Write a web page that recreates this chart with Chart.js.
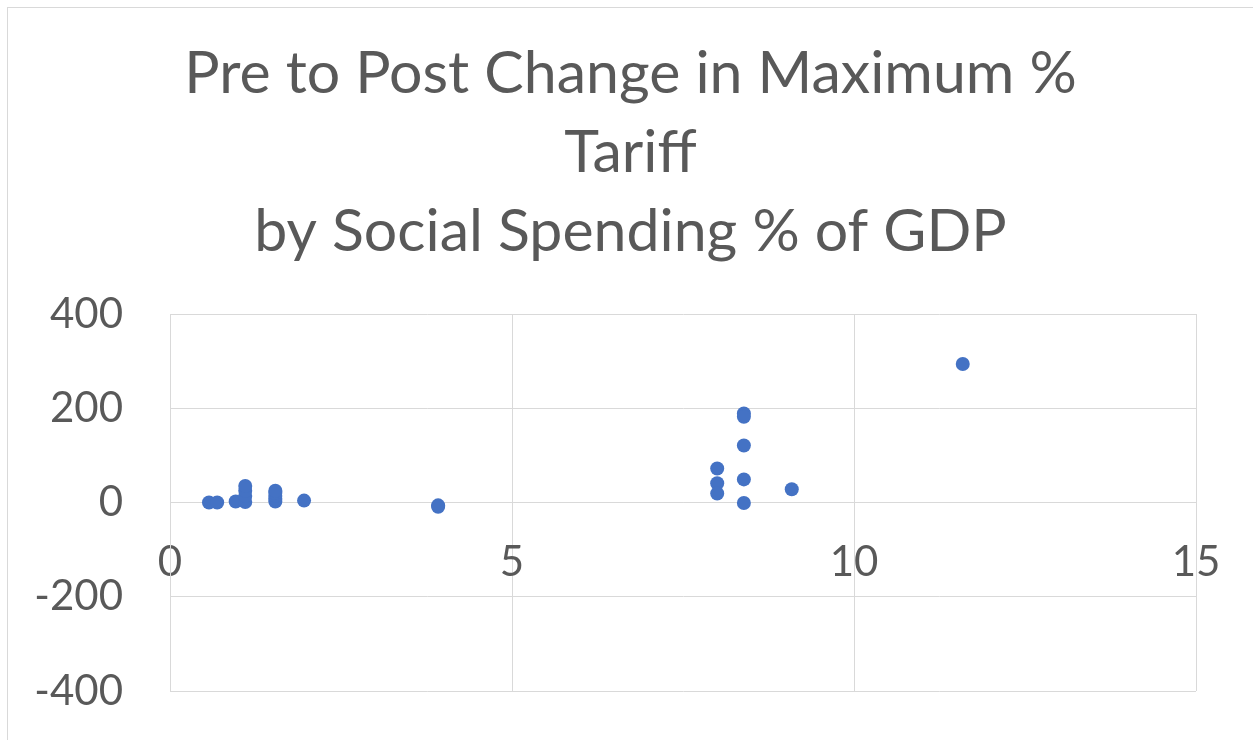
<!DOCTYPE html>
<html><head><meta charset="utf-8">
<script src="https://cdn.jsdelivr.net/npm/chart.js@4.4.1/dist/chart.umd.min.js"></script>
<style>
html,body{margin:0;padding:0;background:#fff;overflow:hidden}
#frame{position:absolute;left:7px;top:7px;width:1300px;height:800px;border:1px solid #d9d9d9;box-sizing:border-box}
#wrap{position:absolute;left:0;top:0;width:1253px;height:740px}
</style></head>
<body>
<div id="frame"></div>
<div id="wrap"><canvas id="c" width="1253" height="740"></canvas></div>
<script>
const titleLines = ["Pre to Post Change in Maximum %", "Tariff", "by Social Spending % of GDP"];
const socialSpending = [0.57, 0.69, 0.96, 1.1, 1.1, 1.1, 1.1, 1.54, 1.54, 1.54, 1.54, 1.54, 1.96, 3.92, 3.92, 8.0, 8.0, 8.0, 8.39, 8.39, 8.39, 8.39, 8.39, 9.09, 11.59];
const tariffChange = [0, 0, 2, 1, 14, 25, 35, 2, 8, 14, 20, 25, 4, -6, -9, 72, 41, 19, 189, 182, 121, 49, -1, 28, 294];
const xTicks = [0, 5, 10, 15];
const yTicks = [-400, -200, 0, 200, 400];

const points = socialSpending.map((x, i) => ({x: x, y: tariffChange[i]}));
const FONT = "Lato, 'Open Sans', sans-serif";
const TXT = '#595959';
const GRID = '#d9d9d9';

// shift the centred title so it sits where the reference puts it
const titleShift = { id: 'titleShift', afterLayout(chart) { const t = chart.titleBlock; if (t) { t.left += 45; } } };

new Chart(document.getElementById('c'), {
  type: 'scatter',
  data: { datasets: [{ data: points, backgroundColor: '#4472C4', borderWidth: 0, pointRadius: 7, pointHoverRadius: 7 }] },
  plugins: [titleShift],
  options: {
    responsive: false, animation: false,
    layout: { padding: { left: 20, right: 57, top: 34, bottom: 49 } },
    plugins: {
      legend: { display: false }, tooltip: { enabled: false },
      title: { display: true, text: titleLines, color: TXT, font: { family: FONT, size: 59, weight: 'normal', lineHeight: 1.339 }, padding: { top: 0, bottom: 43 } }
    },
    scales: {
      x: {
        type: 'linear', position: { y: 0 }, min: xTicks[0], max: xTicks[xTicks.length - 1],
        afterBuildTicks: s => { s.ticks = xTicks.map(v => ({value: v})); },
        afterFit: s => { s.paddingLeft = 0; s.paddingRight = 0; },
        ticks: { color: TXT, font: { family: FONT, size: 42 }, padding: 35, maxRotation: 0 },
        grid: { color: GRID, drawTicks: false },
        border: { color: GRID }
      },
      y: {
        type: 'linear', min: yTicks[0], max: yTicks[yTicks.length - 1],
        afterBuildTicks: s => { s.ticks = yTicks.map(v => ({value: v})); },
        afterFit: s => { s.width = 150; s.paddingTop = 0; s.paddingBottom = 0; },
        ticks: { color: TXT, font: { family: FONT, size: 42 }, padding: 47 },
        grid: { color: GRID, drawTicks: false },
        border: { color: GRID }
      }
    }
  }
});
</script>
</body></html>
